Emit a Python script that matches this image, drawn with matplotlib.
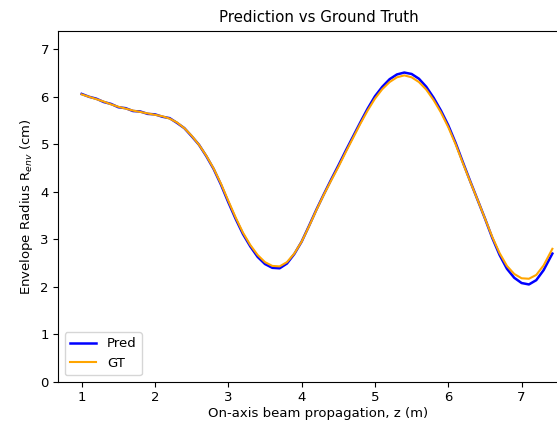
import matplotlib
matplotlib.use("Agg")
import matplotlib.pyplot as plt
import numpy as np

# on-axis position z (m)
z = [1.0, 1.1, 1.2, 1.3, 1.4, 1.5, 1.6, 1.7, 1.8, 1.9,
     2.0, 2.1, 2.2, 2.3, 2.4, 2.5, 2.6, 2.7, 2.8, 2.9,
     3.0, 3.1, 3.2, 3.3, 3.4, 3.5, 3.6, 3.7, 3.8, 3.9,
     4.0, 4.1, 4.2, 4.3, 4.4, 4.5, 4.6, 4.7, 4.8, 4.9,
     5.0, 5.1, 5.2, 5.3, 5.4, 5.5, 5.6, 5.7, 5.8, 5.9,
     6.0, 6.1, 6.2, 6.3, 6.4, 6.5, 6.6, 6.7, 6.8, 6.9,
     7.0, 7.1, 7.2, 7.3, 7.42]

# ground truth envelope radius (cm)
gt = [6.05, 6.00, 5.95, 5.90, 5.84, 5.79, 5.75, 5.71, 5.68, 5.65,
      5.62, 5.59, 5.54, 5.46, 5.34, 5.18, 4.99, 4.76, 4.49, 4.17,
      3.81, 3.46, 3.14, 2.88, 2.67, 2.52, 2.44, 2.43, 2.52, 2.70,
      2.95, 3.27, 3.61, 3.93, 4.23, 4.52, 4.83, 5.13, 5.43, 5.71,
      5.96, 6.16, 6.31, 6.41, 6.45, 6.41, 6.31, 6.15, 5.93, 5.67,
      5.36, 5.00, 4.60, 4.21, 3.83, 3.44, 3.05, 2.71, 2.44, 2.27,
      2.18, 2.17, 2.25, 2.45, 2.80]

# network prediction (cm)
pred = [6.06, 6.00, 5.96, 5.89, 5.85, 5.78, 5.76, 5.70, 5.69, 5.64,
        5.63, 5.58, 5.55, 5.45, 5.34, 5.17, 4.99, 4.75, 4.48, 4.15,
        3.78, 3.43, 3.11, 2.85, 2.63, 2.48, 2.40, 2.39, 2.49, 2.69,
        2.95, 3.28, 3.62, 3.94, 4.25, 4.55, 4.86, 5.16, 5.46, 5.75,
        6.01, 6.21, 6.37, 6.47, 6.51, 6.48, 6.38, 6.21, 5.98, 5.71,
        5.40, 5.03, 4.62, 4.22, 3.83, 3.44, 3.03, 2.67, 2.38, 2.19,
        2.08, 2.05, 2.14, 2.35, 2.70]


def main():
	fig = plt.figure(figsize=(5.57, 4.21), dpi=100)
	# axes run past the right edge: the reference is a cropped screenshot
	ax = fig.add_axes([0.1041, 0.093, 0.935, 0.834])

	ax.plot(z, pred, color='blue', linewidth=1.8, label='Pred')
	ax.plot(z, gt, color='orange', linewidth=1.5, label='GT')

	ax.set_xlim(0.677, 7.78)
	ax.set_ylim(0, 7.39)
	ax.set_xticks([1, 2, 3, 4, 5, 6, 7])
	ax.set_yticks([0, 1, 2, 3, 4, 5, 6, 7])

	ax.set_title('Prediction vs Ground Truth', fontsize=10.8)
	ax.set_xlabel('On-axis beam propagation, z (m)', fontsize=9.5, labelpad=2)
	ax.set_ylabel(r'Envelope Radius R$_{env}$ (cm)', fontsize=9.5)
	ax.tick_params(labelsize=9.5, pad=3)
	ax.legend(loc='lower left', fontsize=9.5)

	fig.savefig('out.png', dpi=100)
	plt.close(fig)


if __name__ == "__main__":
	main()
